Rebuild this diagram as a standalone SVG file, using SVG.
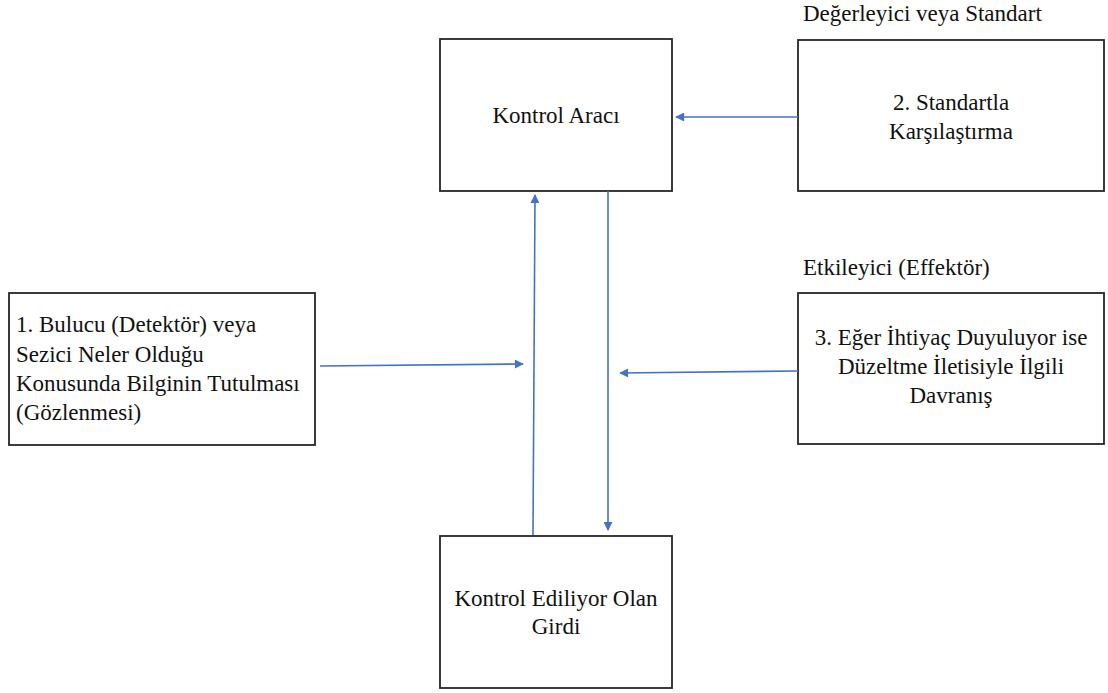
<svg xmlns="http://www.w3.org/2000/svg" width="1108" height="693" viewBox="0 0 1108 693">
  <style>
    .box { fill: #ffffff; stroke: #262626; stroke-width: 1.8; }
    .label { font-family: Liberation Serif, Times New Roman, Tinos, serif; font-size: 23px; fill: #111111; }
    .mid { text-anchor: middle; }
    .link { stroke: #4472C4; stroke-width: 1.6; fill: none; marker-end: url(#head); }
  </style>
  <defs>
    <marker id="head" viewBox="0 0 10 10" refX="9" refY="5" markerWidth="10" markerHeight="9" markerUnits="userSpaceOnUse" orient="auto">
      <path d="M0,0 L10,5 L0,10 z" fill="#4472C4"/>
    </marker>
  </defs>
  <rect width="1108" height="693" fill="#ffffff"/>

  <g id="node-kontrol-araci">
    <rect class="box" x="440" y="39" width="232" height="152"/>
    <text class="label mid" x="556" y="123">Kontrol Aracı</text>
  </g>

  <g id="node-standart">
    <text class="label" x="803" y="21">Değerleyici veya Standart</text>
    <rect class="box" x="798" y="40" width="306" height="151"/>
    <text class="label mid" x="951" y="110">2. Standartla</text>
    <text class="label mid" x="951" y="139">Karşılaştırma</text>
  </g>

  <g id="node-bulucu">
    <rect class="box" x="9" y="293" width="306" height="152"/>
    <text class="label" x="16" y="332">1. Bulucu (Detektör) veya</text>
    <text class="label" x="16" y="362">Sezici Neler Olduğu</text>
    <text class="label" x="16" y="391">Konusunda Bilginin Tutulması</text>
    <text class="label" x="16" y="420">(Gözlenmesi)</text>
  </g>

  <g id="node-etkileyici">
    <text class="label" x="803" y="275">Etkileyici (Effektör)</text>
    <rect class="box" x="798" y="293" width="306" height="151"/>
    <text class="label mid" x="951" y="345">3. Eğer İhtiyaç Duyuluyor ise</text>
    <text class="label mid" x="951" y="374">Düzeltme İletisiyle İlgili</text>
    <text class="label mid" x="951" y="403">Davranış</text>
  </g>

  <g id="node-girdi">
    <rect class="box" x="440" y="536" width="232" height="152"/>
    <text class="label mid" x="556" y="606">Kontrol Ediliyor Olan</text>
    <text class="label mid" x="556" y="634">Girdi</text>
  </g>

  <g id="connectors">
    <line class="link" x1="798" y1="117" x2="676" y2="117"/>
    <line class="link" x1="533" y1="535" x2="535" y2="195"/>
    <line class="link" x1="608" y1="191" x2="608" y2="530"/>
    <line class="link" x1="320" y1="366" x2="523" y2="364"/>
    <line class="link" x1="798" y1="371" x2="620" y2="373"/>
  </g>
</svg>
